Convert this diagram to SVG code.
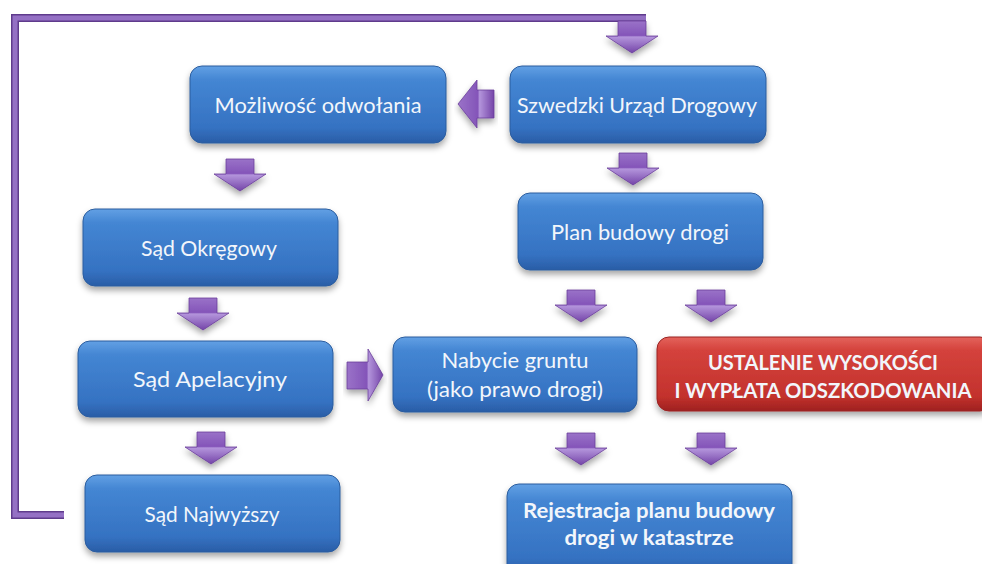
<svg xmlns="http://www.w3.org/2000/svg" xmlns:xlink="http://www.w3.org/1999/xlink" width="982" height="564" viewBox="0 0 982 564">
<defs>
<linearGradient id="gBlue" x1="0" y1="0" x2="0" y2="1">
<stop offset="0" stop-color="#62a0e4"/>
<stop offset="0.18" stop-color="#4486d3"/>
<stop offset="0.8" stop-color="#3572c2"/>
<stop offset="1" stop-color="#2a5da6"/>
</linearGradient>
<linearGradient id="gRed" x1="0" y1="0" x2="0" y2="1">
<stop offset="0" stop-color="#e4635c"/>
<stop offset="0.18" stop-color="#d4423c"/>
<stop offset="0.8" stop-color="#c3322d"/>
<stop offset="1" stop-color="#9e2120"/>
</linearGradient>
<linearGradient id="gArrow" x1="0" y1="0" x2="0" y2="1">
<stop offset="0" stop-color="#9a72c8"/>
<stop offset="0.45" stop-color="#8455b9"/>
<stop offset="0.5" stop-color="#b394db"/>
<stop offset="1" stop-color="#7444a8"/>
</linearGradient>
<linearGradient id="gArrowH" x1="0" y1="0" x2="1" y2="0">
<stop offset="0" stop-color="#9a72c8"/>
<stop offset="0.55" stop-color="#8455b9"/>
<stop offset="0.6" stop-color="#b394db"/>
<stop offset="1" stop-color="#7444a8"/>
</linearGradient>
<filter id="shadow" x="-10%" y="-10%" width="120%" height="140%">
<feDropShadow dx="0" dy="4" stdDeviation="3" flood-color="#000" flood-opacity="0.35"/>
</filter>
<path id="down" d="M-14,0 H14 V15 H26 L0,32 L-26,15 H-14 Z"/>
</defs>
<style>
.box{fill:url(#gBlue);stroke:#2b5c9e;stroke-width:1;filter:url(#shadow)}
.red{fill:url(#gRed);stroke:#9a2222;stroke-width:1;filter:url(#shadow)}
.t{font-family:Lato,"Liberation Sans",sans-serif;font-size:22px;fill:#f2f6fb;text-anchor:middle}
.b{font-weight:bold;font-size:21px}
.arr{fill:url(#gArrow);stroke:#6b3f9a;stroke-width:0.8;filter:url(#shadow)}
.arrh{fill:url(#gArrowH);stroke:#6b3f9a;stroke-width:0.8;filter:url(#shadow)}
.lineo{fill:none;stroke:#5f3b8c;stroke-width:8;stroke-linejoin:miter}
.linei{fill:none;stroke:#9470c4;stroke-width:5;stroke-linejoin:miter}
</style>
<rect width="982" height="564" fill="#ffffff"/>
<g id="connectors">
<path class="lineo" d="M64,515 H15 V18 H646"/>
<path class="linei" d="M64,515 H15 V18 H646"/>
<use class="arr" xlink:href="#down" x="632" y="21"/>
<use class="arr" xlink:href="#down" x="240" y="159"/>
<use class="arr" xlink:href="#down" x="633" y="153"/>
<use class="arr" xlink:href="#down" x="203" y="298"/>
<use class="arr" xlink:href="#down" x="581" y="290"/>
<use class="arr" xlink:href="#down" x="711" y="290"/>
<use class="arr" xlink:href="#down" x="211" y="432"/>
<use class="arr" xlink:href="#down" x="581" y="433"/>
<use class="arr" xlink:href="#down" x="711" y="433"/>
<path class="arrh" d="M494,90 V118 H477 V128 L458,104 L477,80 V90 Z"/>
<path class="arrh" d="M347,362 H368 V349 L383,375 L368,401 V389 H347 Z"/>
</g>
<g id="n1"><rect class="box" x="190" y="66" width="256" height="77" rx="12"/><text class="t" x="318" y="113" textLength="207" lengthAdjust="spacingAndGlyphs">Możliwość odwołania</text></g>
<g id="n2"><rect class="box" x="510" y="66" width="256" height="77" rx="12"/><text class="t" x="637" y="113" textLength="240" lengthAdjust="spacingAndGlyphs">Szwedzki Urząd Drogowy</text></g>
<g id="n3"><rect class="box" x="518" y="193" width="245" height="77" rx="12"/><text class="t" x="640" y="240" textLength="178" lengthAdjust="spacingAndGlyphs">Plan budowy drogi</text></g>
<g id="n4"><rect class="box" x="83" y="209" width="255" height="77" rx="12"/><text class="t" x="209" y="256" textLength="136" lengthAdjust="spacingAndGlyphs">Sąd Okręgowy</text></g>
<g id="n5"><rect class="box" x="78" y="341" width="255" height="76" rx="12"/><text class="t" x="210" y="387" textLength="154" lengthAdjust="spacingAndGlyphs">Sąd Apelacyjny</text></g>
<g id="n6"><rect class="box" x="85" y="475" width="255" height="77" rx="12"/><text class="t" x="212" y="522" textLength="135" lengthAdjust="spacingAndGlyphs">Sąd Najwyższy</text></g>
<g id="n7"><rect class="box" x="393" y="337" width="244" height="75" rx="12"/><text class="t" x="515" y="368" textLength="147" lengthAdjust="spacingAndGlyphs">Nabycie gruntu</text><text class="t" x="515" y="397" textLength="176" lengthAdjust="spacingAndGlyphs">(jako prawo drogi)</text></g>
<g id="n8"><rect class="red" x="657" y="337" width="335" height="74" rx="12"/><text class="t b" x="823" y="370" textLength="230" lengthAdjust="spacingAndGlyphs">USTALENIE WYSOKOŚCI</text><text class="t b" x="823" y="398" textLength="297" lengthAdjust="spacingAndGlyphs">I WYPŁATA ODSZKODOWANIA</text></g>
<g id="n9"><rect class="box" x="507" y="484" width="285" height="92" rx="12"/><text class="t b" x="649" y="518" textLength="252" lengthAdjust="spacingAndGlyphs">Rejestracja planu budowy</text><text class="t b" x="649" y="545" textLength="169" lengthAdjust="spacingAndGlyphs">drogi w katastrze</text></g>
</svg>
